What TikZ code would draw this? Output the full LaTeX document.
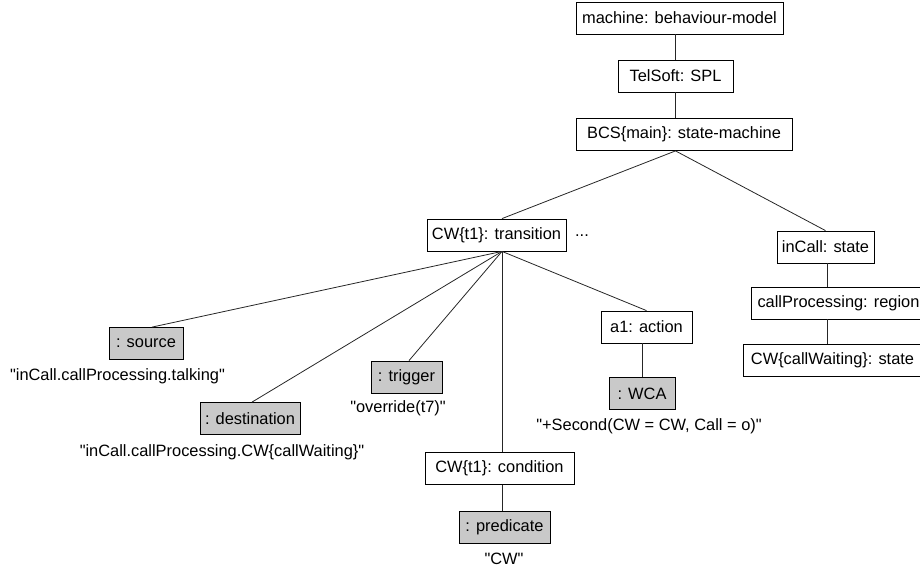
\documentclass[tikz,border=0pt]{standalone}
\usepackage{fontspec}
% family without TeX ligatures, so that " stays a straight quote
\newfontfamily\diagfont{Liberation Sans}
\begin{document}
\begin{tikzpicture}[x=1pt,y=-1pt,
  every node/.style={font=\diagfont\fontsize{16.4}{19}\selectfont},
  box/.style={draw=black, line width=0.8pt, fill=white, minimum height=32pt,
    inner xsep=5pt, inner ysep=0pt, anchor=center},
  valbox/.style={box, fill=gray!42},
  val/.style={inner sep=0pt, anchor=center},
  link/.style={draw=black!85, line width=0.8pt}]
\clip (0,0) rectangle (920,572);

% upper chain
\node[box, minimum width=207pt] (machine) at (679.5,18)  {machine: behaviour-model};
\node[box, minimum width=115pt] (tel)     at (675.5,76)  {TelSoft: SPL};
\node[box, minimum width=216pt] (bcs)     at (684,134.5) {BCS\{main\}: state-machine};

% transition branch
\node[box, minimum width=139pt] (tr)   at (496.5,235)  {CW\{t1\}: transition};
\node[val] (more) at (582,236) {...};
\node[valbox, minimum width=74pt]  (src)  at (146,343.5) {: source};
\node[valbox, minimum width=98pt]  (dst)  at (250,418.5) {: destination};
\node[valbox, minimum width=71pt]  (trig) at (406.5,377) {: trigger};
\node[box, minimum width=149pt]    (cond) at (499.5,468.5) {CW\{t1\}: condition};
\node[valbox, minimum width=91pt]  (pred) at (504.5,527) {: predicate};
\node[box, minimum width=91pt]     (act)  at (646.5,327) {a1: action};
\node[valbox, minimum width=66pt]  (wca)  at (642,393.5) {: WCA};

% state branch
\node[box, minimum width=97pt]  (incall) at (825.5,247) {inCall: state};
\node[box, minimum width=175pt] (cp)     at (838.5,303) {callProcessing: region};
\node[box, minimum width=179pt] (cwst)   at (832.5,360) {CW\{callWaiting\}: state};

% values
\node[val] (srcv)  at (117.5,376) {"inCall.callProcessing.talking"};
\node[val] (dstv)  at (222,452)   {"inCall.callProcessing.CW\{callWaiting\}"};
\node[val] (trigv) at (398,408)   {"override(t7)"};
\node[val] (wcav)  at (649,426.5) {"+Second(CW = CW, Call = o)"};
\node[val] (predv) at (504,559)   {"CW"};

% connection points
\coordinate (bcsA) at (tel.south |- bcs.south);
\coordinate (trA)  at ([xshift=5.5pt]tr.south);

% links
\draw[link] (tel.north |- machine.south) -- (tel.north);
\draw[link] (tel.south) -- (tel.south |- bcs.north);
\draw[link] (bcsA) -- (trA |- tr.north);
\draw[link] (bcsA) -- (incall.north);
\draw[link] (trA) -- ([xshift=6pt]src.north);
\draw[link] (trA) -- ([xshift=2pt]dst.north);
\draw[link] (trA) -- ([xshift=2.5pt]trig.north);
\draw[link] (trA) -- (trA |- cond.north);
\draw[link] (trA) -- (act.north);
\draw[link] (trA |- cond.south) -- (trA |- pred.north);
\draw[link] (wca.north |- act.south) -- (wca.north);
\draw[link] ([xshift=1.5pt]incall.south) -- ([xshift=1.5pt]incall.south |- cp.north);
\draw[link] ([xshift=1.5pt]incall.south |- cp.south) -- ([xshift=1.5pt]incall.south |- cwst.north);
\end{tikzpicture}
\end{document}
